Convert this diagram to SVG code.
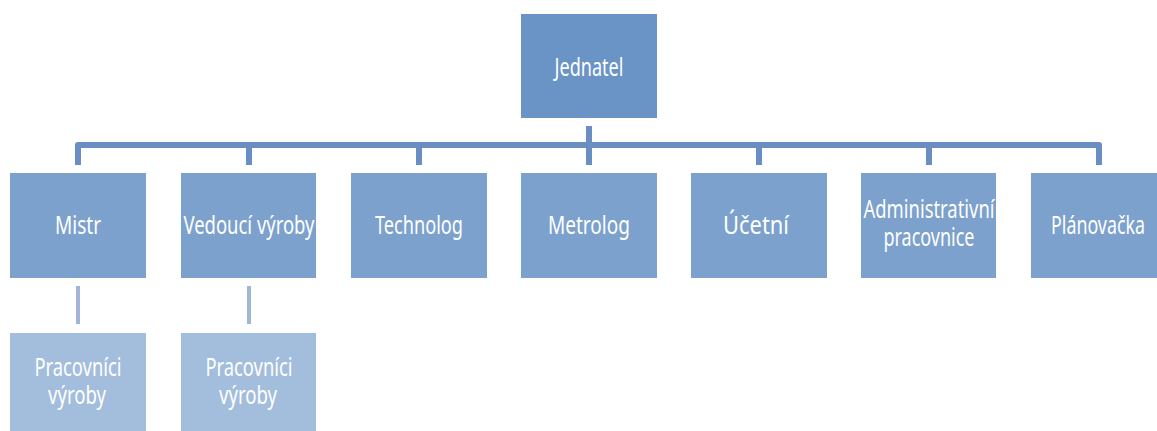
<svg xmlns="http://www.w3.org/2000/svg" width="1157" height="431" viewBox="0 0 1157 431">
<style>
.top{fill:#6A93C6}
.mid{fill:#7CA1CD}
.low{fill:#A3BDDD}
text{font-family:"Noto Sans","Liberation Sans",sans-serif;font-size:26px;fill:#ffffff;text-anchor:middle}
.c{fill:none;stroke:#6B8EC2;stroke-width:6;stroke-linejoin:round}
.cl{fill:none;stroke:#A0B5D8;stroke-width:4}
</style>
<rect width="1157" height="431" fill="#ffffff"/>
<g id="connectors">
<path class="c" d="M589 126 V145 M78 165 V145 H1099 V165 M249 145 V165 M419 145 V165 M589 145 V165 M759 145 V165 M929 145 V165"/>
<path class="cl" d="M78 286 V324 M249 286 V324"/>
</g>
<g id="jednatel"><rect class="top" x="521" y="14" width="136" height="104"/><text x="589" y="76" textLength="69" lengthAdjust="spacingAndGlyphs">Jednatel</text></g>
<g id="mistr"><rect class="mid" x="10" y="173" width="136" height="105"/><text x="78" y="234" textLength="46" lengthAdjust="spacingAndGlyphs">Mistr</text></g>
<g id="vedouci"><rect class="mid" x="181" y="173" width="135" height="105"/><text x="249" y="234" textLength="131" lengthAdjust="spacingAndGlyphs">Vedoucí výroby</text></g>
<g id="technolog"><rect class="mid" x="351" y="173" width="136" height="105"/><text x="419" y="234" textLength="88" lengthAdjust="spacingAndGlyphs">Technolog</text></g>
<g id="metrolog"><rect class="mid" x="521" y="173" width="136" height="105"/><text x="589" y="234" textLength="82" lengthAdjust="spacingAndGlyphs">Metrolog</text></g>
<g id="ucetni"><rect class="mid" x="691" y="173" width="136" height="105"/><text x="756" y="234" textLength="66" lengthAdjust="spacingAndGlyphs">Účetní</text></g>
<g id="administrativni"><rect class="mid" x="861" y="173" width="135" height="105"/><text x="929" y="218" textLength="131" lengthAdjust="spacingAndGlyphs">Administrativní</text><text x="929" y="246" textLength="91" lengthAdjust="spacingAndGlyphs">pracovnice</text></g>
<g id="planovacka"><rect class="mid" x="1031" y="173" width="136" height="105"/><text x="1098" y="234" textLength="94" lengthAdjust="spacingAndGlyphs">Plánovačka</text></g>
<g id="pracovnici1"><rect class="low" x="10" y="333" width="136" height="104"/><text x="78" y="376" textLength="87" lengthAdjust="spacingAndGlyphs">Pracovníci</text><text x="77" y="404" textLength="58" lengthAdjust="spacingAndGlyphs">výroby</text></g>
<g id="pracovnici2"><rect class="low" x="181" y="333" width="135" height="104"/><text x="249" y="376" textLength="87" lengthAdjust="spacingAndGlyphs">Pracovníci</text><text x="248" y="404" textLength="58" lengthAdjust="spacingAndGlyphs">výroby</text></g>
</svg>
